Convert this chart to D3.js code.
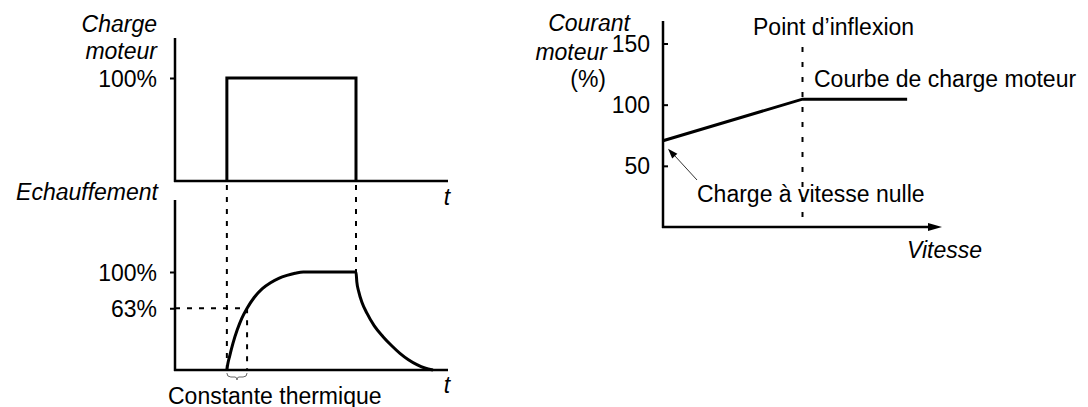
<!DOCTYPE html>
<html>
<head>
<meta charset="utf-8">
<script src="https://cdn.jsdelivr.net/npm/d3@7"></script>
<style>
  html, body { margin: 0; padding: 0; background: #fff; }
  svg { display: block; font-family: "Liberation Sans", Arial, sans-serif; }
  text { fill: #000; }
</style>
</head>
<body>
<svg id="chart" width="1088" height="407"></svg>
<script>
// ---------------- DATA ----------------
// Left charts: time axis in arbitrary units (0..100)
const loadOn = 19;          // load switched on
const loadOff = 66.3;       // load switched off
const thermalTau = 26.4;    // time at which heating reaches 63 %
const loadTimes  = [19, 19, 66.3, 66.3];
const loadValues = [0, 100, 100, 0];
const heatTimes  = [19, 19.3, 20, 21.2, 22.8, 24.5, 26.4, 29, 32, 35, 38, 41, 44, 47, 66.3,
                    66.6, 67.3, 68.5, 70.3, 73, 76.2, 79.3, 82.4, 85.5, 88.6, 91.5, 94.5];
const heatValues = [0, 5.5, 14, 27, 41, 53, 63, 74, 83, 89, 93.5, 96.5, 98.7, 100, 100,
                    90, 80, 69, 58, 45, 34, 25, 17, 10.5, 5.5, 2, 0];
const loadTicks = [100];
const loadTickLabels = ["100%"];
const heatTicks = [100, 63];
const heatTickLabels = ["100%", "63%"];

// Right chart: motor current vs speed
const speedValues   = [0, 50, 87.5];
const currentValues = [70.5, 104.5, 104.5];
const inflectionSpeed = 50;
const currentTicks = [50, 100, 150];
const currentTickLabels = ["50", "100", "150"];

// ---------------- DRAWING ----------------
const svg = d3.select("#chart");
const FS = 23;
const black = "#000";

// Shared time scale for left charts
const xT = d3.scaleLinear().domain([0, 100]).range([175, 448]);
const yLoad = d3.scaleLinear().domain([0, 100]).range([181, 78]);
const yHeat = d3.scaleLinear().domain([0, 100]).range([370, 272]);

function leftAxis(yScale, ticks, labels, topY) {
  const g = svg.append("g").attr("transform", `translate(${xT(0)},0)`);
  const ax = d3.axisLeft(yScale).tickValues(ticks)
    .tickFormat((d, i) => labels[i]).tickSize(5).tickPadding(13);
  g.call(ax);
  g.select(".domain").remove();
  g.selectAll(".tick line").attr("stroke", black).attr("stroke-width", 2);
  g.selectAll(".tick text").attr("font-size", FS).attr("font-family", "Liberation Sans, Arial, sans-serif")
    .attr("fill", black).attr("dy", "0.35em");
  // axis lines
  svg.append("line").attr("x1", xT(0)).attr("x2", xT(0))
    .attr("y1", yScale(0) + 1).attr("y2", topY)
    .attr("stroke", black).attr("stroke-width", 2.5);
  svg.append("line").attr("x1", xT(0) - 1).attr("x2", xT(100))
    .attr("y1", yScale(0)).attr("y2", yScale(0))
    .attr("stroke", black).attr("stroke-width", 2.5);
}
leftAxis(yLoad, loadTicks, loadTickLabels, 38);
leftAxis(yHeat, heatTicks, heatTickLabels, 200);

// Dashed guide lines (left)
const dashL = "5,7";
function dashed(x1, y1, x2, y2, dash) {
  svg.append("line").attr("x1", x1).attr("y1", y1).attr("x2", x2).attr("y2", y2)
    .attr("stroke", black).attr("stroke-width", 2).attr("stroke-dasharray", dash);
}
dashed(xT(loadOn), yLoad(0) + 4, xT(loadOn), yHeat(0), dashL);
dashed(xT(loadOff), yLoad(0) + 4, xT(loadOff), yHeat(100), dashL);
dashed(xT(0), yHeat(63), xT(thermalTau), yHeat(63), dashL);
dashed(xT(thermalTau), yHeat(63), xT(thermalTau), yHeat(0), dashL);

// Load pulse
const loadLine = d3.line().x((d, i) => xT(loadTimes[i])).y((d, i) => yLoad(loadValues[i]));
svg.append("path").attr("d", loadLine(loadTimes))
  .attr("fill", "none").attr("stroke", black).attr("stroke-width", 3).attr("stroke-linejoin", "miter");

// Heating curve
const heatLine = d3.line().curve(d3.curveMonotoneX)
  .x((d, i) => xT(heatTimes[i])).y((d, i) => yHeat(heatValues[i]));
svg.append("path").attr("d", heatLine(heatTimes))
  .attr("fill", "none").attr("stroke", black).attr("stroke-width", 3);

// Brace under time constant
const bx1 = xT(loadOn), bx2 = xT(thermalTau), bm = (bx1 + bx2) / 2, by = yHeat(0) + 3;
svg.append("path")
  .attr("d", `M${bx1},${by} q0,4 4,4 H${bm - 2} q2,0 2,3 q0,-3 2,-3 H${bx2 - 4} q4,0 4,-4`)
  .attr("fill", "none").attr("stroke", "#666").attr("stroke-width", 1);

// Left texts
function txt(x, y, s, anchor, italic) {
  svg.append("text").attr("x", x).attr("y", y).attr("font-size", FS)
    .attr("text-anchor", anchor).attr("font-style", italic ? "italic" : "normal").text(s);
}
txt(157, 32, "Charge", "end", true);
txt(157, 59, "moteur", "end", true);
txt(158, 200, "Echauffement", "end", true);
txt(447, 205, "t", "middle", true);
txt(447, 393, "t", "middle", true);
txt(168, 404, "Constante thermique", "start", false);

// ---------------- Right chart ----------------
const xS = d3.scaleLinear().domain([0, 100]).range([663, 942]);
const yC = d3.scaleLinear().domain([0, 150]).range([227, 43.5]);

const gR = svg.append("g").attr("transform", `translate(${xS(0)},0)`);
gR.call(d3.axisLeft(yC).tickValues(currentTicks).tickFormat((d, i) => currentTickLabels[i])
  .tickSizeInner(-5).tickSizeOuter(0).tickPadding(13));
gR.select(".domain").remove();
gR.selectAll(".tick line").attr("stroke", black).attr("stroke-width", 2);
gR.selectAll(".tick text").attr("font-size", FS).attr("font-family", "Liberation Sans, Arial, sans-serif")
  .attr("fill", black).attr("dy", "0.35em");

svg.append("line").attr("x1", xS(0)).attr("x2", xS(0)).attr("y1", yC(0) + 1).attr("y2", 21)
  .attr("stroke", black).attr("stroke-width", 2.5);
svg.append("line").attr("x1", xS(0) - 1).attr("x2", xS(100) - 10).attr("y1", yC(0)).attr("y2", yC(0))
  .attr("stroke", black).attr("stroke-width", 2.5);
svg.append("path")
  .attr("d", `M${xS(100)},${yC(0)} L${xS(100) - 14},${yC(0) - 4} L${xS(100) - 14},${yC(0) + 4} Z`)
  .attr("fill", black);

// Dashed inflection line
dashed(xS(inflectionSpeed), 47, xS(inflectionSpeed), yC(0), "5,10");

// Motor load curve
const curLine = d3.line().x((d, i) => xS(speedValues[i])).y((d, i) => yC(currentValues[i]));
svg.append("path").attr("d", curLine(speedValues))
  .attr("fill", "none").attr("stroke", black).attr("stroke-width", 3);

// Annotation arrow
const ax0 = xS(0) + 34, ay0 = 180, ax1 = xS(0) + 5, ay1 = yC(currentValues[0]) + 8;
svg.append("line").attr("x1", ax0).attr("y1", ay0).attr("x2", ax1 + 4).attr("y2", ay1 + 4)
  .attr("stroke", "#333").attr("stroke-width", 1);
const ang = Math.atan2(ay1 - ay0, ax1 - ax0);
const hl = 10, hw = 3.5;
const bxA = ax1 - hl * Math.cos(ang), byA = ay1 - hl * Math.sin(ang);
svg.append("path")
  .attr("d", `M${ax1},${ay1} L${bxA - hw * Math.sin(ang)},${byA + hw * Math.cos(ang)} L${bxA + hw * Math.sin(ang)},${byA - hw * Math.cos(ang)} Z`)
  .attr("fill", black);

// Right texts
txt(630, 31, "Courant", "end", true);
txt(607, 60, "moteur", "end", true);
txt(606, 87, "(%)", "end", false);
txt(753, 35, "Point d\u2019inflexion", "start", false);
txt(814, 87, "Courbe de charge moteur", "start", false);
txt(697, 202, "Charge à vitesse nulle", "start", false);
txt(982, 258, "Vitesse", "end", true);
</script>
</body>
</html>
